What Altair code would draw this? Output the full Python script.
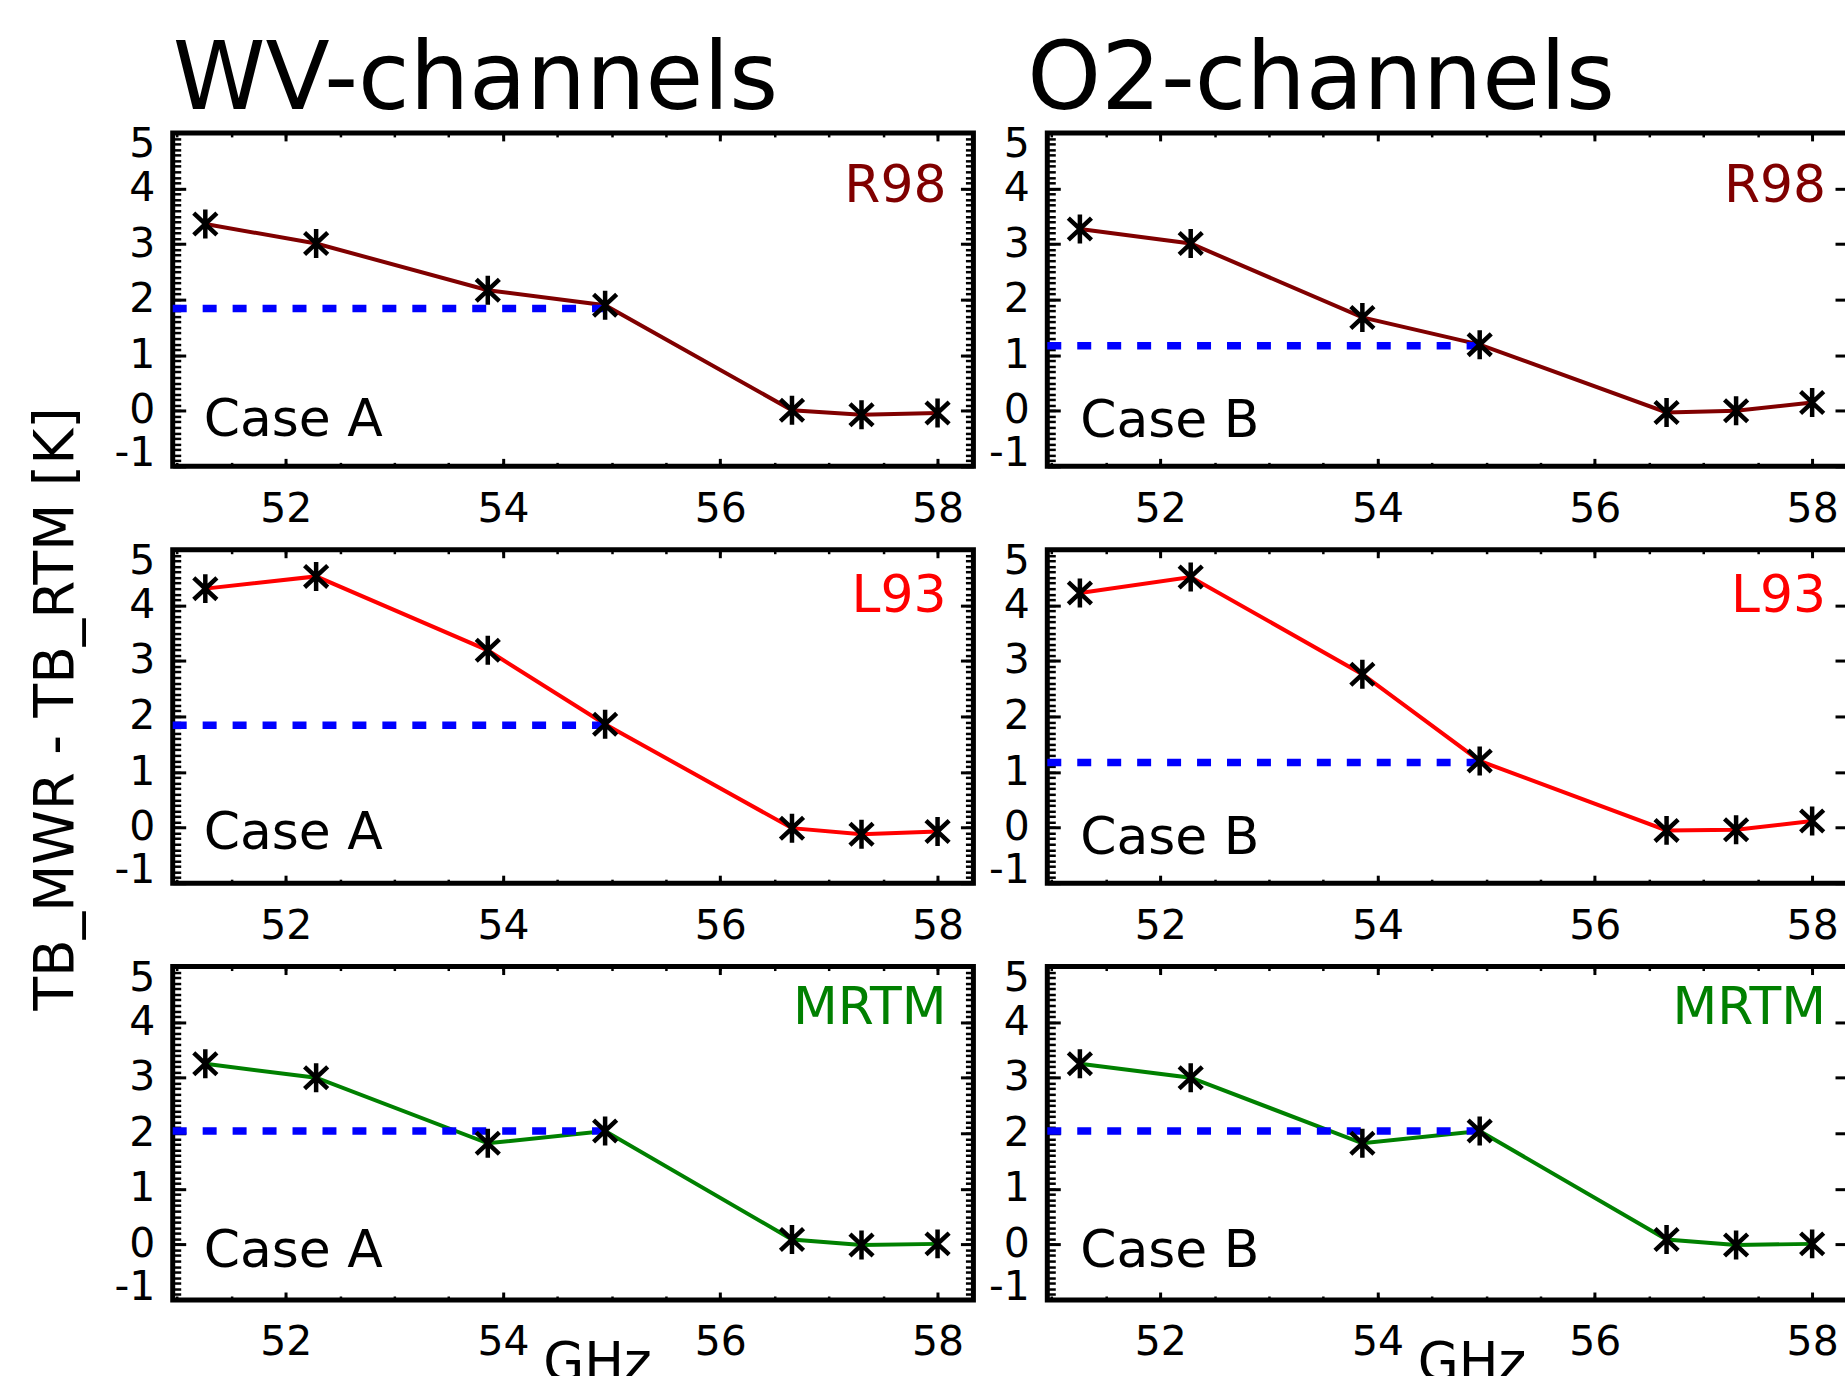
import altair as alt
import pandas as pd

# ---------------- data ----------------
freq = [51.26, 52.28, 53.86, 54.94, 56.66, 57.30, 58.00]

wv_r98 = [3.36, 3.01, 2.17, 1.90, 0.01, -0.07, -0.04]
wv_l93 = [4.30, 4.52, 3.19, 1.86, -0.01, -0.12, -0.07]
wv_mrtm = [3.25, 3.00, 1.82, 2.04, 0.09, -0.01, 0.01]
o2_r98 = [3.27, 3.01, 1.68, 1.19, -0.03, 0.00, 0.15]
o2_l93 = [4.22, 4.51, 2.76, 1.20, -0.05, -0.04, 0.12]
o2_mrtm = [3.25, 3.00, 1.82, 2.04, 0.09, -0.01, 0.01]

wv_ref = [1.84, 1.84, 2.04]
o2_ref = [1.17, 1.17, 2.04]

models = ["R98", "L93", "MRTM"]
column_titles = ["WV-channels", "O2-channels"]
cases = ["Case A", "Case B"]
x_ticks = [52, 54, 56, 58]
y_ticks = [-1, 0, 1, 2, 3, 4, 5]
x_title = "GHz"
y_title = "TB_MWR - TB_RTM [K]"

series = [[wv_r98, wv_l93, wv_mrtm], [o2_r98, o2_l93, o2_mrtm]]
refs = [wv_ref, o2_ref]

# ---------------- style ----------------
FONT = "DejaVu Sans"
model_colors = ["#800000", "#ff0000", "#008000"]
REF_COLOR = "#0000ff"
W, H = 802, 334
X_DOMAIN = [50.96, 58.33]
Y_DOMAIN = [-1, 5]
x_minor = [51 + 0.5 * i for i in range(15)]
y_minor = [round(-1 + 0.1 * i, 1) for i in range(61)]
ASTERISK = "M0,-1L0,1M-0.8,-0.75L0.8,0.75M-0.8,0.75L0.8,-0.75"

model_label_x = [775, 780]
model_label_y = [69, 62, 58]
case_label_x = [31, 33]
case_label_y = [[304, 300, 301], [305, 305, 301]]
right_minor_len = [8, 3]

XS = alt.Scale(domain=X_DOMAIN, nice=False, zero=False)
YS = alt.Scale(domain=Y_DOMAIN, nice=False, zero=False)


def tick_axis(orient, values, size, width):
    return alt.Axis(orient=orient, values=values, labels=False, domain=False,
                    grid=False, ticks=True, tickSize=size, offset=-size,
                    tickWidth=width, tickColor="black", title=None)


def label_x_axis(with_title):
    kw = dict(orient="bottom", values=x_ticks, ticks=False, tickSize=0,
              domain=False, grid=False, labelFont=FONT, labelFontSize=41,
              labelColor="black", labelPadding=55, labelBaseline="alphabetic",
              labelExpr="'' + datum.value", labelOverlap=False, labelFlush=False)
    if with_title:
        kw.update(title=x_title, titleFont=FONT, titleFontSize=53,
                  titleFontWeight="normal", titleColor="black", titleX=425,
                  titleY=80, titleAlign="center", titleBaseline="alphabetic")
    else:
        kw.update(title=None)
    return alt.Axis(**kw)


def label_y_axis(with_title):
    kw = dict(orient="left", values=y_ticks, ticks=False, tickSize=0,
              domain=False, grid=False, labelFont=FONT, labelFontSize=41,
              labelColor="black", labelPadding=18, labelFlush=True,
              labelFlushOffset=8, labelOverlap=False,
              labelExpr="'' + datum.value")
    if with_title:
        kw.update(title=y_title, titleFont=FONT, titleFontSize=55,
                  titleFontWeight="normal", titleColor="black", titleX=-100,
                  titleY=159, titleAngle=270, titleAlign="center",
                  titleBaseline="alphabetic")
    else:
        kw.update(title=None)
    return alt.Axis(**kw)


def panel(col, row):
    vals = series[col][row]
    df = pd.DataFrame({"freq": freq, "val": vals})

    def axis_layer(ax, ay):
        return alt.Chart(df).mark_point(opacity=0).encode(
            x=alt.X("freq:Q", scale=XS, axis=ax),
            y=alt.Y("val:Q", scale=YS, axis=ay),
        )

    layers = [
        axis_layer(label_x_axis(row == 2), label_y_axis(col == 0 and row == 1)),
        axis_layer(tick_axis("bottom", x_ticks, 8, 3), tick_axis("left", y_ticks, 13, 3)),
        axis_layer(tick_axis("bottom", x_minor, 4, 2.5), tick_axis("left", y_minor, 8, 2.5)),
        axis_layer(tick_axis("top", x_ticks, 8, 3), tick_axis("right", y_ticks, 13, 3)),
        axis_layer(tick_axis("top", x_minor, 4, 2.5),
                   tick_axis("right", y_minor, right_minor_len[col], 2.5)),
    ]

    enc = dict(x=alt.X("freq:Q", scale=XS, axis=None),
               y=alt.Y("val:Q", scale=YS, axis=None))
    line = alt.Chart(df).mark_line(color=model_colors[row], strokeWidth=4).encode(**enc)

    ref_df = pd.DataFrame({"x0": [X_DOMAIN[0]], "x1": [freq[3]], "y": [refs[col][row]]})
    ref = alt.Chart(ref_df).mark_rule(color=REF_COLOR, strokeWidth=7.5,
                                      strokeDash=[14, 16]).encode(
        x=alt.X("x0:Q", scale=XS, axis=None),
        x2="x1:Q",
        y=alt.Y("y:Q", scale=YS, axis=None),
    )
    pts = alt.Chart(df).mark_point(shape=ASTERISK, size=841, filled=False,
                                   stroke="black", strokeWidth=4.5,
                                   opacity=1).encode(**enc)

    mlabel = alt.Chart(pd.DataFrame({"t": [models[row]]})).mark_text(
        align="right", baseline="alphabetic", font=FONT, fontSize=52,
        color=model_colors[row], x=model_label_x[col], y=model_label_y[row]
    ).encode(text="t:N")
    clabel = alt.Chart(pd.DataFrame({"t": [cases[col]]})).mark_text(
        align="left", baseline="alphabetic", font=FONT, fontSize=52,
        color="black", x=case_label_x[col], y=case_label_y[col][row]
    ).encode(text="t:N")

    ch = alt.layer(*layers, line, ref, pts, mlabel, clabel).resolve_axis(
        x="independent", y="independent"
    ).properties(width=W, height=H)
    if row == 0:
        ch = ch.properties(title=alt.TitleParams(
            column_titles[col], anchor="start", frame="group", font=FONT,
            fontSize=94, fontWeight="normal", color="black",
            baseline="alphabetic", offset=-79, dx=0 if col == 0 else -20))
    return ch


panels = []
for r in range(3):
    for c in range(2):
        panels.append(panel(c, r))

chart = alt.concat(*panels, columns=2, spacing={"row": 83.5, "column": 74},
                   bounds="flush").configure_view(
    stroke="black", strokeWidth=5
).properties(
    padding={"left": 26, "top": 30, "right": -7, "bottom": -18},
    background="white",
)

chart.save("out.html", embed_options={"renderer": "svg", "actions": False})
